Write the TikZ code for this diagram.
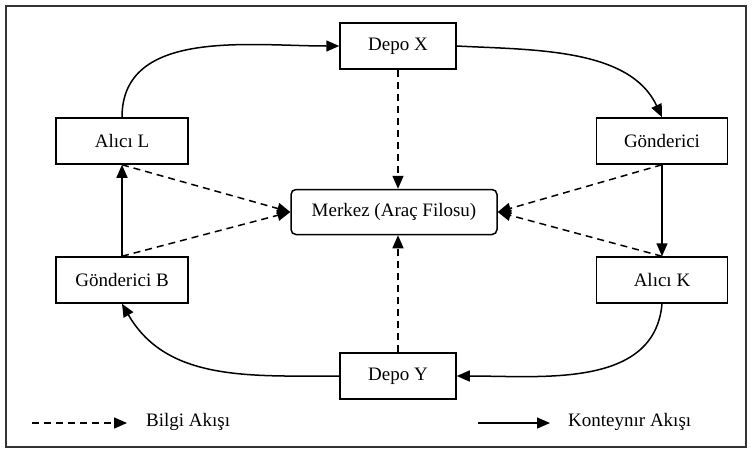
\documentclass[tikz,border=0pt]{standalone}
\usepackage{fontspec}
\setmainfont{Liberation Serif}
\usetikzlibrary{arrows.meta}
\begin{document}
\begin{tikzpicture}[x=1pt,y=-1pt,
  font=\fontsize{19}{22}\selectfont,
  box/.style={draw,line width=1.5pt,minimum height=46pt,inner sep=2pt},
  flow/.style={line width=1.5pt,-{Triangle[length=13pt,width=11pt]}},
  info/.style={line width=1.5pt,dash pattern=on 7pt off 5pt,-{Triangle[length=13pt,width=11pt]}},
  ]
\useasboundingbox (0,0) rectangle (752,453);
\draw[line width=1.2pt,black!80] (6,6) rectangle (746,447);
\node[box,minimum width=116pt] (dx) at (398,46) {Depo X};
\node[box,minimum width=132pt] (al) at (122,141) {Alıcı L};
\node[box,minimum width=131pt] (go) at (662,141) {Gönderici};
\node[box,minimum width=206pt,rounded corners=5pt,minimum height=45pt] (mk) at (394,212) {Merkez (Araç Filosu)};
\node[box,minimum width=132pt] (gb) at (122,280) {Gönderici B};
\node[box,minimum width=131pt] (ak) at (662,280) {Alıcı K};
\node[box,minimum width=116pt] (dy) at (398,376) {Depo Y};
% container flow
\draw[flow] (al.north) to[out=90,in=180] (dx.west);
\draw[flow] (dx.east) to[out=-3,in=115,looseness=0.9] (go.north);
\draw[flow] (go.south) -- (ak.north);
\draw[flow] (ak.south) to[out=-95,in=0] (dy.east);
\draw[flow] (dy.west) to[out=180,in=-60] (gb.south);
\draw[flow] (gb.north) -- (al.south);
% information flow
\draw[info] (dx.south) -- (dx.south |- mk.north);
\draw[info] (dy.north) -- (dy.north |- mk.south);
\draw[info] (al.south) -- (mk.west);
\draw[info] (gb.north) -- (mk.west);
\draw[info] (go.south) -- (mk.east);
\draw[info] (ak.north) -- (mk.east);
% legend
\coordinate (l1a) at (32,423);
\coordinate (l1b) at (127,423);
\coordinate (l2a) at (478,423);
\coordinate (l2b) at (550,423);
\draw[info] (l1a) -- (l1b);
\draw[flow] (l2a) -- (l2b);
\node[anchor=west,inner sep=0pt] (lb1) at (146,422) {Bilgi Akışı};
\node[anchor=west,inner sep=0pt] (lb2) at (568,422) {Konteynır Akışı};
\end{tikzpicture}
\end{document}
